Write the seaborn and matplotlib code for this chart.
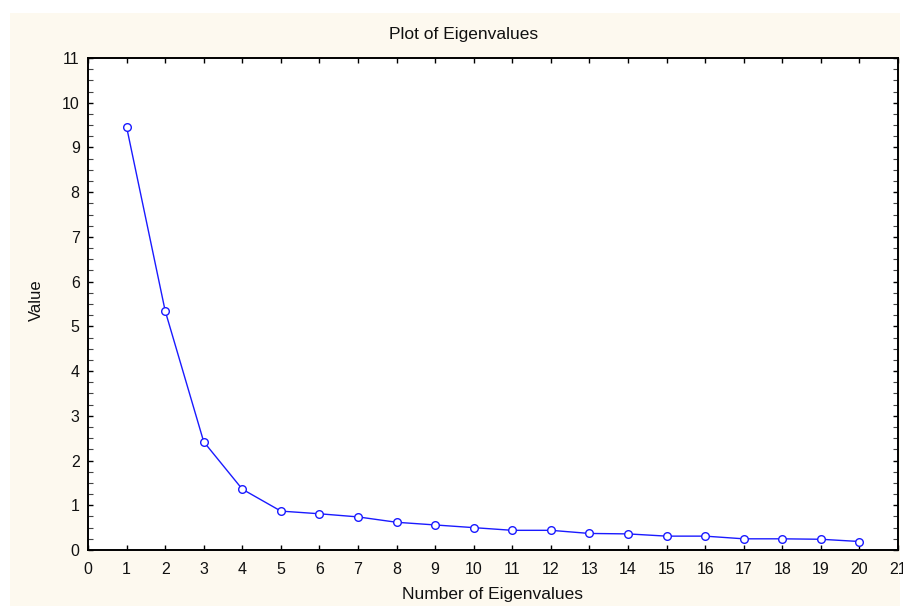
import matplotlib
matplotlib.use("Agg")
import matplotlib.pyplot as plt
from matplotlib.patches import Rectangle
from matplotlib.ticker import MultipleLocator
import seaborn as sns
import pandas as pd

numbers = list(range(1, 21))
eigenvalues = [9.46, 5.35, 2.42, 1.36, 0.87, 0.81, 0.74, 0.62, 0.56, 0.50,
               0.44, 0.44, 0.37, 0.36, 0.31, 0.31, 0.25, 0.25, 0.24, 0.19]
title = "Plot of Eigenvalues"
xlabel = "Number of Eigenvalues"
ylabel = "Value"

sns.set_style("ticks")
plt.rcParams['font.family'] = ['Liberation Sans', 'DejaVu Sans']

W, H = 904, 606
fig = plt.figure(figsize=(W / 100, H / 100), dpi=100, facecolor="white")
fig.patches.append(Rectangle((10 / W, 0), 890 / W, 593 / H, transform=fig.transFigure,
                             facecolor="#FDF9EF", edgecolor="none", zorder=-10))

ax = fig.add_axes([88 / W, 1 - 550 / H, (898 - 88) / W, (550 - 58) / H])
ax.set_facecolor("white")

df = pd.DataFrame({"n": numbers, "v": eigenvalues})
sns.lineplot(data=df, x="n", y="v", ax=ax, color="#1a1aff", linewidth=1.0,
             marker="o", markersize=5.5, markerfacecolor="white",
             markeredgecolor="#1a1aff", markeredgewidth=1.0)

ax.set_xlim(0, 21)
ax.set_ylim(0, 11)
ax.xaxis.set_major_locator(MultipleLocator(1))
ax.yaxis.set_major_locator(MultipleLocator(1))
ax.yaxis.set_minor_locator(MultipleLocator(0.25))
ax.tick_params(axis="both", which="both", direction="in", top=True, right=True,
               length=3.5, width=1.0, color="black", labelsize=11.5,
               labelcolor="#111111")
ax.tick_params(axis="x", which="major", pad=9)
ax.tick_params(axis="y", which="major", pad=6)
ax.tick_params(axis="y", which="minor", length=3.5, width=0.8, color="#444444")
for s in ax.spines.values():
    s.set_linewidth(1.4)
    s.set_color("black")

ax.set_xlabel("")
ax.set_ylabel("")
fig.text(464 / W, 1 - 35 / H, title, ha="center", va="center", fontsize=12.5, color="#111111")
fig.text(493 / W, 1 - 595 / H, xlabel, ha="center", va="center", fontsize=12.5, color="#111111")
fig.text(36 / W, 1 - 300 / H, ylabel, ha="center", va="center", rotation=90, fontsize=12, color="#111111")

fig.savefig("out.png", dpi=100, facecolor="white")
